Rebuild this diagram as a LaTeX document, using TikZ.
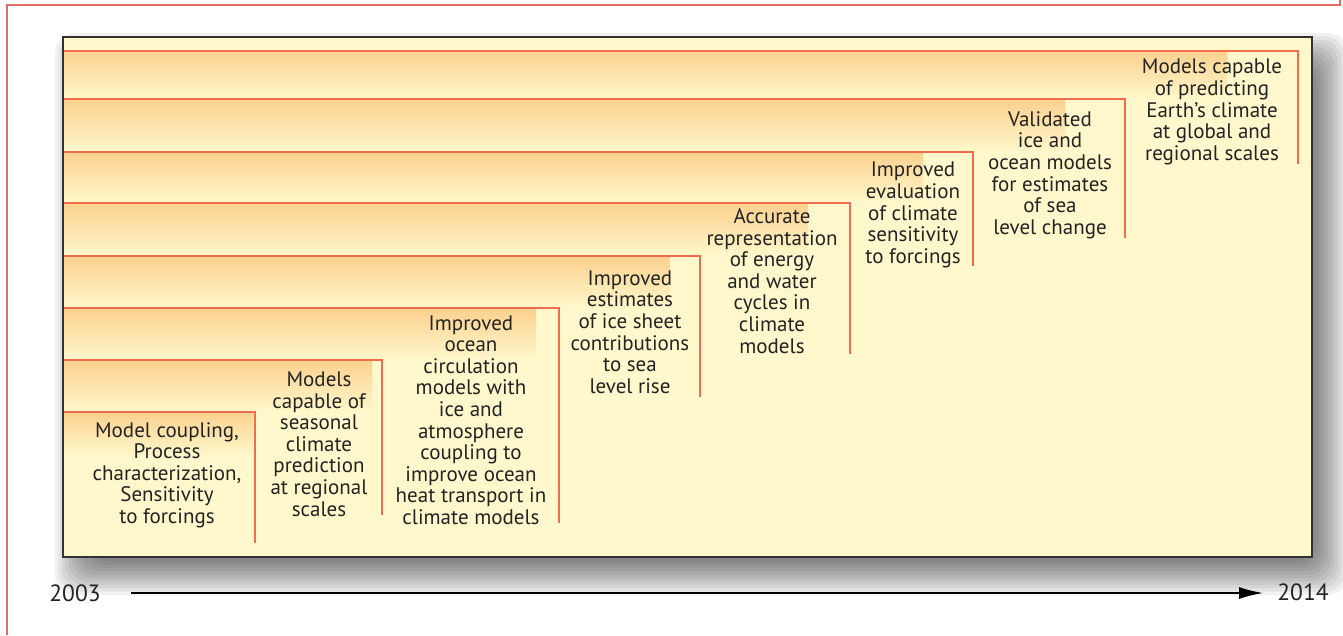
\documentclass[tikz,border=0pt]{standalone}
\usepackage{fontspec}
\setmainfont{PT Sans}
\usetikzlibrary{arrows.meta}
\definecolor{bgyellow}{RGB}{255,248,204}
\definecolor{bandtop}{RGB}{252,209,142}
\definecolor{redline}{RGB}{240,108,78}
\definecolor{framered}{RGB}{226,108,108}
\definecolor{txt}{RGB}{35,35,35}
\definecolor{boxgray}{RGB}{50,50,50}
\tikzset{
  milestone/.style={align=center, font=\fontsize{21}{21.6}\selectfont, text=txt, inner sep=0pt},
  stepline/.style={draw=redline, line width=1.6pt},
  year/.style={font=\fontsize{23.5}{28}\selectfont, text=txt, inner sep=0pt},
}
\begin{document}
\begin{tikzpicture}[x=1pt,y=-1pt]
\useasboundingbox (0,0) rectangle (1343,635);
\fill[white] (0,0) rectangle (1343,635);
% soft shadow
\foreach \k in {0,...,13}{
  \pgfmathsetmacro{\e}{22-\k*44/13}
  \fill[black, opacity=0.055, rounded corners=20pt]
    (63+14-\e,37+18-\e) rectangle (1312+14+\e,557+16+\e);
}
% box
\fill[bgyellow] (63,37) rectangle (1312,557);
% bands
\foreach \ytop/\ybot/\g in {51/99/1227, 99/152/1065, 152/203/923, 203/256/808, 256/308/670, 308/360/536, 360/412/372, 412/456/253}{
  \shade[top color=bandtop, bottom color=bgyellow] (64,\ytop) rectangle (\g,\ybot);
}
% step corners and ends
\coordinate (c8) at (1298,51);  \coordinate (e8) at (1298,164);
\coordinate (c7) at (1125,99);  \coordinate (e7) at (1125,238);
\coordinate (c6) at (973,152);  \coordinate (e6) at (973,266);
\coordinate (c5) at (850,203);  \coordinate (e5) at (850,354);
\coordinate (c4) at (700,256);  \coordinate (e4) at (700,397);
\coordinate (c3) at (559,308);  \coordinate (e3) at (559,523);
\coordinate (c2) at (382,360);  \coordinate (e2) at (382,515);
\coordinate (c1) at (255,412);  \coordinate (e1) at (255,543);
\foreach \i in {1,...,8}{
  \draw[stepline] (c\i -| 64,0) -- (c\i) -- (e\i);
}
\draw[boxgray, line width=1.6pt] (63,37) rectangle (1312,557);
% texts
\node[milestone] (m1) at (167,475) {Model coupling,\\Process\\characterization,\\Sensitivity\\to forcings};
\node[milestone] (m2) at (319,444) {Models\\capable of\\seasonal\\climate\\prediction\\at regional\\scales};
\node[milestone] (m3) at (471,420) {Improved\\ocean\\circulation\\models with\\ice and\\atmosphere\\coupling to\\improve ocean\\heat transport in\\climate models};
\node[milestone] (m4) at (630,332) {Improved\\estimates\\of ice sheet\\contributions\\to sea\\level rise};
\node[milestone] (m5) at (772,281) {Accurate\\representation\\of energy\\and water\\cycles in\\climate\\models};
\node[milestone] (m6) at (913,215) {Improved\\evaluation\\of climate\\sensitivity\\to forcings};
\node[milestone] (m7) at (1050,175) {Validated\\ice and\\ocean models\\for estimates\\of sea\\level change};
\node[milestone] (m8) at (1212,112) {Models capable\\of predicting\\Earth’s climate\\at global and\\regional scales};
% time axis
\node[year] (y0) at (75,593) {2003};
\node[year] (y1) at (1303,592) {2014};
\coordinate (a0) at (131,593);
\coordinate (a1) at (1263,593);
\draw[line width=1.3pt, -{Latex[length=24pt,width=12pt]}] (a0) -- (a1);
% outer frame
\draw[framered, line width=2pt] (1340,0) -- (1340,5) -- (7,5) -- (7,635);
\end{tikzpicture}
\end{document}
